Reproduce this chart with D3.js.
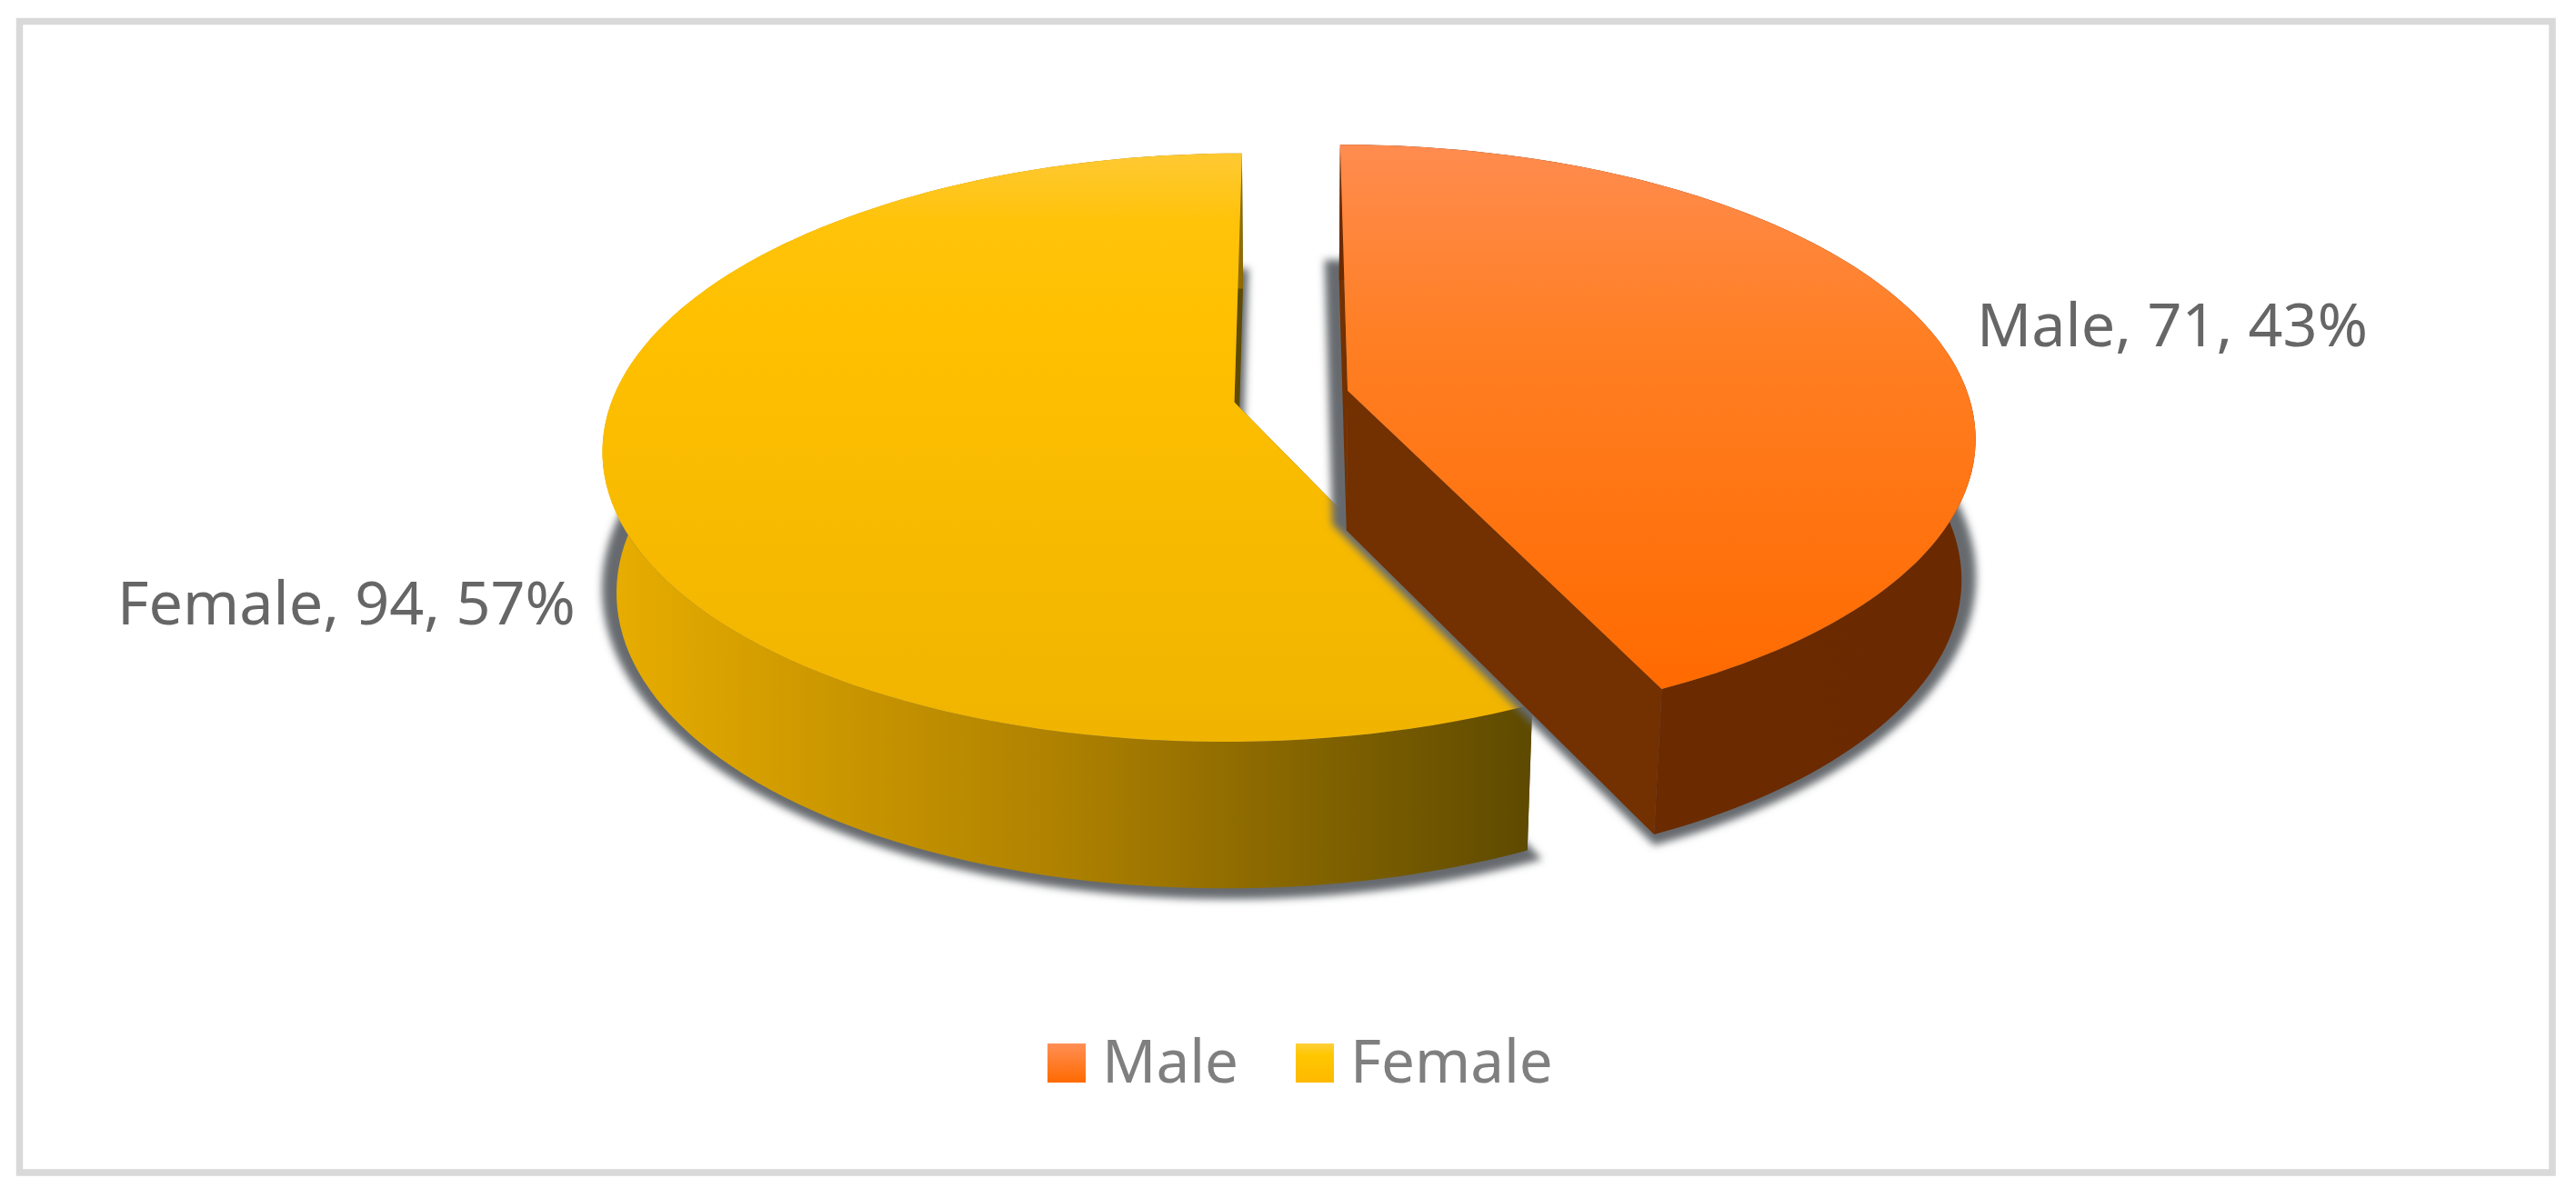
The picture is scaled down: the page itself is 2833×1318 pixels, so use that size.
<!DOCTYPE html>
<html>

<head>
    <meta charset="utf-8">
    <style>
        html, body {
            margin: 0;
            background: #fff;
        }

        svg {
            display: block;
            font-family: "Noto Sans", sans-serif;
        }
    </style>
</head>

<body>
    <svg width="2833" height="1318"></svg>

    <script src="https://d3js.org/d3.v7.min.js"></script>
    <script>
        const categories = ["Male", "Female"];
        const counts = [71, 94];
        const percents = ["43%", "57%"];

        let svg = d3.select("svg");
        let defs = svg.append("defs");

        // projection of the tilted pie plane, u/v are in pie radius units
        let cx = 1420, cy = 436;
        let rx = 683, ry = 314, tilt = 0.154;
        let explode = 0.0934;
        // the base ring is a bit narrower but taller than the top face
        let depth = 154, bottomRx = 669, bottomRy = 320;

        function project(u, v, isBottom) {
            let w = 1 - tilt * v;
            return [
                cx + (isBottom ? bottomRx : rx) * u / w,
                cy + (isBottom ? depth : 0) + (isBottom ? bottomRy : ry) * v / w
            ];
        }

        let pie = d3.pie().sort(null);

        let slices = pie(counts);
        let line = d3.line();

        function ring(d, isBottom) {
            let mid = (d.startAngle + d.endAngle) / 2;
            let angle = d3.scaleLinear().domain([0, 120]).range([d.startAngle, d.endAngle]);
            return d3.range(121).map(i => project(
                Math.sin(mid) * explode + Math.sin(angle(i)),
                -Math.cos(mid) * explode - Math.cos(angle(i)),
                isBottom
            ));
        }

        function apex(d, isBottom) {
            let mid = (d.startAngle + d.endAngle) / 2;
            return project(Math.sin(mid) * explode, -Math.cos(mid) * explode, isBottom);
        }

        function addGradient(id, x1, y1, x2, y2, stops) {
            let g = defs.append("linearGradient")
                .attr("id", id)
                .attr("gradientUnits", "userSpaceOnUse")
                .attr("x1", x1).attr("y1", y1)
                .attr("x2", x2).attr("y2", y2);
            stops.forEach(s => {
                g.append("stop").attr("offset", s[0]).attr("stop-color", s[1]);
            });
        }

        addGradient("topMale", 0, 155, 0, 760, [[0, "#ff8c50"], [0.35, "#ff7f24"], [1, "#ff6a00"]]);
        addGradient("topFemale", 0, 165, 0, 815, [[0, "#ffc935"], [0.12, "#ffc30a"], [0.3, "#ffc000"], [1, "#f0b400"]]);
        addGradient("wallMale", 1830, 0, 2170, 0, [[0, "#6c2a00"], [1, "#6a2900"]]);
        addGradient("wallFemale", 670, 0, 1680, 0, [[0, "#e8ad00"], [0.5, "#ad8000"], [1, "#5e4a00"]]);
        addGradient("swatchMale", 0, 1148, 0, 1191, [[0, "#ff8f55"], [1, "#ff6a00"]]);
        addGradient("swatchFemale", 0, 1148, 0, 1191, [[0, "#ffcf3a"], [0.3, "#ffc700"], [1, "#ffb900"]]);

        let blur = defs.append("filter").attr("id", "soft")
            .attr("x", "-10%").attr("y", "-10%").attr("width", "120%").attr("height", "120%");
        blur.append("feGaussianBlur").attr("stdDeviation", 4);

        // frame
        svg.append("rect")
            .attr("x", 21.5).attr("y", 23.5)
            .attr("width", 2785.5).attr("height", 1266.5)
            .attr("fill", "#fff")
            .attr("stroke", "#d9d9d9")
            .attr("stroke-width", 7.5);

        let topFill = ["url(#topMale)", "url(#topFemale)"];
        let wallFill = ["url(#wallMale)", "url(#wallFemale)"];
        let innerFill = ["#733000", "#5e4a00"];

        // female goes first so the male shadow falls over it
        [1, 0].forEach(i => {
            let d = slices[i];
            let topArc = ring(d, false);
            let lowArc = ring(d, true);
            let topApex = apex(d, false);
            let lowApex = apex(d, true);
            let lowShape = [lowApex].concat(lowArc);

            // shadow is the base of the slice grown a little
            let xs = d3.extent(lowShape, p => p[0]);
            let ys = d3.extent(lowShape, p => p[1]);
            let sx = d3.scaleLinear().domain(xs).range([xs[0] - 16, xs[1] + 16]);
            let sy = d3.scaleLinear().domain(ys).range([ys[0] - 22, ys[1] + 12]);
            svg.append("path")
                .attr("d", line(lowShape.map(p => [sx(p[0]), sy(p[1])])) + "Z")
                .attr("fill", "#666b6e")
                .attr("filter", "url(#soft)");

            // inner walls at the apex
            [topArc[0], topArc[topArc.length - 1]].forEach((p, k) => {
                let q = k == 0 ? lowArc[0] : lowArc[lowArc.length - 1];
                svg.append("path")
                    .attr("d", line([topApex, p, q, lowApex]) + "Z")
                    .attr("fill", innerFill[i]);
            });

            // outer wall, one quad per arc step so the silhouette has no notch
            let wall = d3.range(topArc.length - 1).map(k =>
                line([topArc[k], topArc[k + 1], lowArc[k + 1], lowArc[k]]) + "Z"
            ).join("");
            svg.append("path")
                .attr("d", wall)
                .attr("fill", wallFill[i]);

            // top face
            svg.append("path")
                .attr("d", line([topApex].concat(topArc)) + "Z")
                .attr("fill", topFill[i]);
        });

        // data labels
        let labelPos = [[2174, 381], [129, 687]];
        categories.forEach((c, i) => {
            svg.append("text")
                .attr("x", labelPos[i][0])
                .attr("y", labelPos[i][1])
                .style("font-size", "66.5px")
                .style("fill", "#666")
                .text(c + ", " + counts[i] + ", " + percents[i]);
        });

        // legend
        let swatchX = [1152, 1425];
        let swatchFill = ["url(#swatchMale)", "url(#swatchFemale)"];
        categories.forEach((c, i) => {
            svg.append("rect")
                .attr("x", swatchX[i]).attr("y", 1148)
                .attr("width", 42).attr("height", 43)
                .attr("fill", swatchFill[i]);
            svg.append("text")
                .attr("x", swatchX[i] + 60)
                .attr("y", 1191)
                .style("font-size", "65.5px")
                .style("fill", "#7f7f7f")
                .text(c);
        });
    </script>
</body>

</html>
